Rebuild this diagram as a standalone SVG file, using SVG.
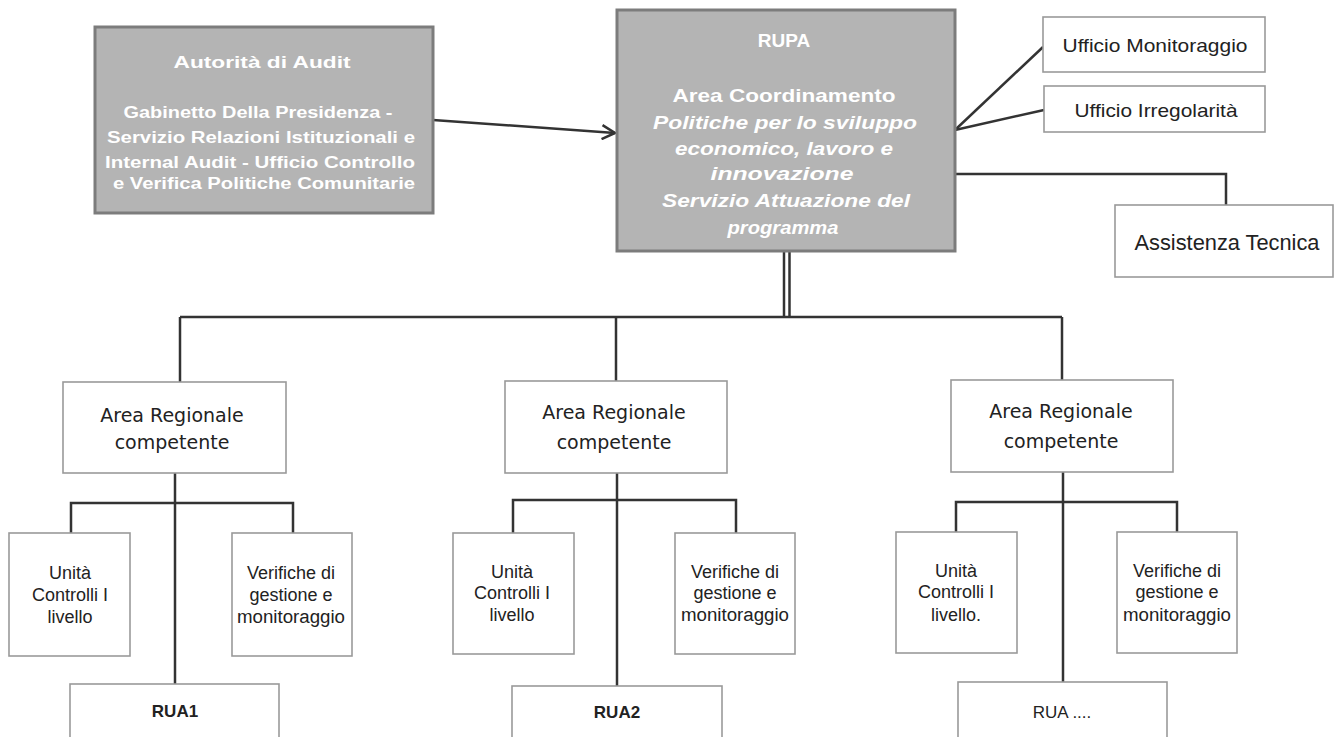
<svg xmlns="http://www.w3.org/2000/svg" width="1335" height="737" viewBox="0 0 1335 737">
<defs>
<style>
.gbox{fill:#b4b4b4;stroke:#7c7c7c;stroke-width:3}
.wbox{fill:#ffffff;stroke:#9a9a9a;stroke-width:1.6}
.wt{font-family:"Liberation Sans",Arial,sans-serif;font-weight:bold;fill:#ffffff;text-anchor:middle}
.wti{font-family:"Liberation Sans",Arial,sans-serif;font-weight:bold;font-style:italic;fill:#ffffff;text-anchor:middle}
.t{font-family:"Liberation Sans",Arial,sans-serif;fill:#222222;text-anchor:middle}
.tv{font-family:"DejaVu Sans","Open Sans",sans-serif;fill:#222222;text-anchor:middle}
.c{fill:none;stroke:#333333;stroke-width:2.5}
</style>
<marker id="open" viewBox="0 0 16 16" refX="15" refY="8" markerWidth="16" markerHeight="16" markerUnits="userSpaceOnUse" orient="auto">
<path d="M2,1 L15,8 L2,15" fill="none" stroke="#333333" stroke-width="2.5"/>
</marker>
</defs>

<g id="connectors">
<line class="c" x1="433" y1="120" x2="615" y2="133" marker-end="url(#open)"/>
<line class="c" x1="955" y1="130" x2="1043" y2="47" stroke-width="2"/>
<line class="c" x1="955" y1="130" x2="1044" y2="110"/>
<polyline class="c" points="955,174 1226,174 1226,205"/>
<line class="c" x1="784" y1="252" x2="784" y2="317" stroke-width="2"/>
<line class="c" x1="789.5" y1="252" x2="789.5" y2="317" stroke-width="2"/>
<line class="c" x1="180" y1="317" x2="1062" y2="317"/>
<line class="c" x1="180" y1="317" x2="180" y2="382"/>
<line class="c" x1="616" y1="317" x2="616" y2="381"/>
<line class="c" x1="1062" y1="317" x2="1062" y2="380"/>
<line class="c" x1="175" y1="473" x2="175" y2="684"/>
<polyline class="c" points="71,533 71,503 293,503 293,533"/>
<line class="c" x1="617" y1="473" x2="617" y2="686"/>
<polyline class="c" points="513,533 513,500 736,500 736,533"/>
<line class="c" x1="1063" y1="472" x2="1063" y2="682"/>
<polyline class="c" points="956,532 956,502 1177,502 1177,532"/>
</g>

<g id="autorita">
<rect class="gbox" x="95" y="27" width="338" height="186"/>
<text class="wt" x="262" y="68" font-size="17" textLength="177" lengthAdjust="spacingAndGlyphs">Autorità di Audit</text>
<text class="wt" x="258" y="118" font-size="16" textLength="269" lengthAdjust="spacingAndGlyphs">Gabinetto Della Presidenza -</text>
<text class="wt" x="261" y="143" font-size="16" textLength="308" lengthAdjust="spacingAndGlyphs">Servizio Relazioni Istituzionali  e</text>
<text class="wt" x="260" y="168" font-size="16" textLength="310" lengthAdjust="spacingAndGlyphs">Internal Audit  - Ufficio Controllo</text>
<text class="wt" x="264" y="189" font-size="16" textLength="302" lengthAdjust="spacingAndGlyphs">e Verifica Politiche Comunitarie</text>
</g>

<g id="rupa">
<rect class="gbox" x="617" y="10" width="338" height="241"/>
<text class="wt" x="784" y="47" font-size="19">RUPA</text>
<text class="wt" x="784" y="102" font-size="19" textLength="223" lengthAdjust="spacingAndGlyphs">Area Coordinamento</text>
<text class="wti" x="785" y="129" font-size="19" textLength="264" lengthAdjust="spacingAndGlyphs">Politiche per lo sviluppo</text>
<text class="wti" x="784" y="155" font-size="19" textLength="218" lengthAdjust="spacingAndGlyphs">economico, lavoro e</text>
<text class="wti" x="782" y="180" font-size="19" textLength="143" lengthAdjust="spacingAndGlyphs">innovazione</text>
<text class="wti" x="786" y="207" font-size="19" textLength="248" lengthAdjust="spacingAndGlyphs">Servizio Attuazione del</text>
<text class="wti" x="783" y="234" font-size="19" textLength="111" lengthAdjust="spacingAndGlyphs">programma</text>
</g>

<g id="ufficio-monitoraggio">
<rect class="wbox" x="1043" y="17" width="222" height="55"/>
<text class="t" x="1155" y="52" font-size="19" textLength="185" lengthAdjust="spacingAndGlyphs">Ufficio Monitoraggio</text>
</g>

<g id="ufficio-irregolarita">
<rect class="wbox" x="1044" y="86" width="221" height="46"/>
<text class="t" x="1156" y="117" font-size="19" textLength="163" lengthAdjust="spacingAndGlyphs">Ufficio Irregolarità</text>
</g>

<g id="assistenza-tecnica">
<rect class="wbox" x="1115" y="205" width="218" height="72"/>
<text class="t" x="1227" y="250" font-size="22" textLength="185" lengthAdjust="spacingAndGlyphs">Assistenza Tecnica</text>
</g>

<g id="area1">
<rect class="wbox" x="63" y="382" width="223" height="91"/>
<text class="tv" x="172" y="422" font-size="19">Area Regionale</text>
<text class="tv" x="172" y="449" font-size="19">competente</text>
</g>
<g id="unita1">
<rect class="wbox" x="9" y="533" width="121" height="123"/>
<text class="t" x="70" y="579" font-size="18">Unità</text>
<text class="t" x="70" y="601" font-size="18">Controlli I</text>
<text class="t" x="70" y="623" font-size="18">livello</text>
</g>
<g id="verifiche1">
<rect class="wbox" x="232" y="533" width="120" height="123"/>
<text class="t" x="291" y="579" font-size="18">Verifiche di</text>
<text class="t" x="291" y="601" font-size="18">gestione e</text>
<text class="t" x="291" y="623" font-size="18" textLength="108" lengthAdjust="spacingAndGlyphs">monitoraggio</text>
</g>
<g id="rua1">
<rect class="wbox" x="70" y="684" width="209" height="60"/>
<text class="t" x="175" y="717" font-size="17" font-weight="bold" fill="#3a3a3a">RUA1</text>
</g>

<g id="area2">
<rect class="wbox" x="505" y="381" width="222" height="92"/>
<text class="tv" x="614" y="419" font-size="19">Area Regionale</text>
<text class="tv" x="614" y="449" font-size="19">competente</text>
</g>
<g id="unita2">
<rect class="wbox" x="453" y="533" width="121" height="121"/>
<text class="t" x="512" y="578" font-size="18">Unità</text>
<text class="t" x="512" y="599" font-size="18">Controlli I</text>
<text class="t" x="512" y="621" font-size="18">livello</text>
</g>
<g id="verifiche2">
<rect class="wbox" x="675" y="533" width="120" height="121"/>
<text class="t" x="735" y="578" font-size="18">Verifiche di</text>
<text class="t" x="735" y="599" font-size="18">gestione e</text>
<text class="t" x="735" y="621" font-size="18" textLength="108" lengthAdjust="spacingAndGlyphs">monitoraggio</text>
</g>
<g id="rua2">
<rect class="wbox" x="512" y="686" width="210" height="60"/>
<text class="t" x="617" y="718" font-size="17" font-weight="bold" fill="#3a3a3a">RUA2</text>
</g>

<g id="area3">
<rect class="wbox" x="951" y="380" width="222" height="92"/>
<text class="tv" x="1061" y="418" font-size="19">Area Regionale</text>
<text class="tv" x="1061" y="448" font-size="19">competente</text>
</g>
<g id="unita3">
<rect class="wbox" x="896" y="532" width="121" height="121"/>
<text class="t" x="956" y="577" font-size="18">Unità</text>
<text class="t" x="956" y="598" font-size="18">Controlli I</text>
<text class="t" x="956" y="621" font-size="18">livello.</text>
</g>
<g id="verifiche3">
<rect class="wbox" x="1117" y="532" width="120" height="121"/>
<text class="t" x="1177" y="577" font-size="18">Verifiche di</text>
<text class="t" x="1177" y="598" font-size="18">gestione e</text>
<text class="t" x="1177" y="621" font-size="18" textLength="108" lengthAdjust="spacingAndGlyphs">monitoraggio</text>
</g>
<g id="rua3">
<rect class="wbox" x="958" y="682" width="209" height="64"/>
<text class="t" x="1062" y="718" font-size="17" fill="#3a3a3a">RUA ....</text>
</g>
</svg>
